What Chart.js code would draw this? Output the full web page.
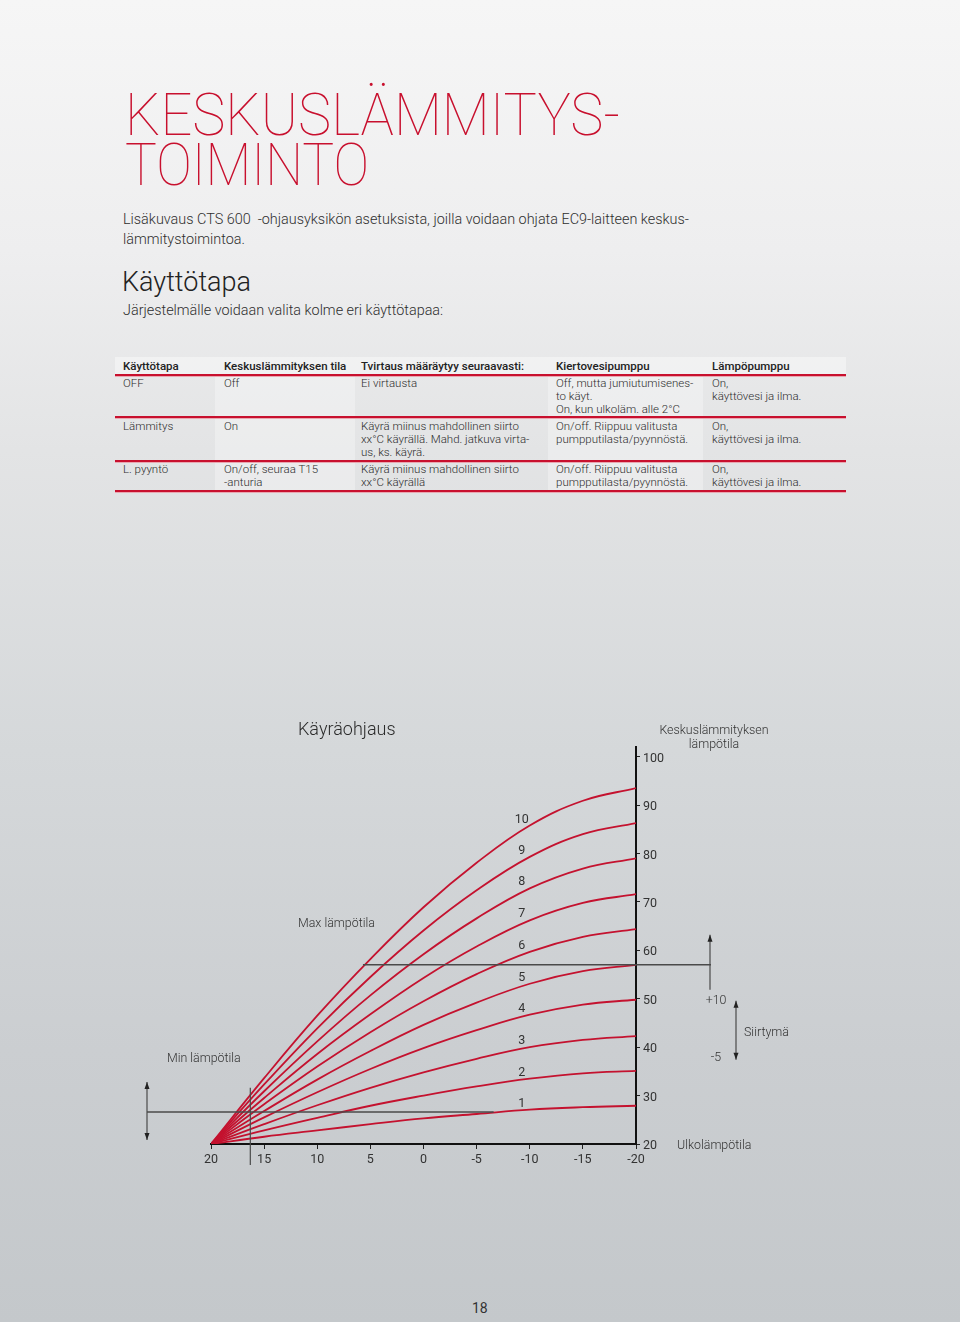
<!DOCTYPE html>
<html lang="fi">
<head>
<meta charset="utf-8">
<title>Keskuslämmitystoiminto</title>
<script src="https://cdn.jsdelivr.net/npm/chart.js@4.4.1/dist/chart.umd.min.js"></script>
<style>
  html, body { margin: 0; padding: 0; }
  body {
    width: 960px; height: 1322px; position: relative; overflow: hidden;
    font-family: Roboto, "DejaVu Sans", sans-serif; color: #2b2b2b;
    background: linear-gradient(to bottom, #f6f6f6 0px, #eeeeef 250px, #e3e4e5 450px, #d5d8da 750px, #cbced1 1050px, #c4c8cb 1322px);
  }
  .abs { position: absolute; white-space: nowrap; }
  .title { left: 125px; font-weight: 100; font-size: 60px; line-height: 60px; color: #c8102e; transform-origin: 0 0; }
  .body { left: 123px; font-size: 14.4px; line-height: 20px; font-weight: 300; color: #2e2e2e; }
  .h2 { left: 122px; top: 267px; font-size: 27px; line-height: 30px; font-weight: 300; color: #222; }
  .cell { font-size: 11.5px; line-height: 13px; font-weight: 300; color: #2e2e2e; }
  .hd { font-weight: 500; color: #222; }
  .shade { position: absolute; background: rgba(255,255,255,0.3); }
  .rule { position: absolute; left: 115px; width: 731px; height: 2px; background: #c8102e; border-bottom: 1px solid #e9a7b1; }
  #wrap { position: absolute; left: 0; top: 690px; width: 960px; height: 510px; }
</style>
</head>
<body>

<div class="abs title" style="top:85px" data-fit="495">KESKUSLÄMMITYS-</div>
<div class="abs title" style="top:135px" data-fit="244">TOIMINTO</div>

<div class="abs body" style="top:210px">Lisäkuvaus CTS 600 &nbsp;-ohjausyksikön asetuksista, joilla voidaan ohjata EC9-laitteen keskus-<br>lämmitystoimintoa.</div>
<div class="abs h2">Käyttötapa</div>
<div class="abs body" style="top:301px">Järjestelmälle voidaan valita kolme eri käyttötapaa:</div>

<!-- table -->
<div class="shade" style="left:115px; top:357px; width:731px; height:17px; background:rgba(255,255,255,0.4)"></div>
<div class="shade" style="left:215px; top:377px; width:140px; height:114px"></div>
<div class="shade" style="left:548px; top:377px; width:155px; height:114px"></div>
<div class="rule" style="top:374px"></div>
<div class="rule" style="top:416px"></div>
<div class="rule" style="top:460px"></div>
<div class="rule" style="top:490px"></div>

<div class="abs cell hd" style="left:123px; top:360px">Käyttötapa</div>
<div class="abs cell hd" style="left:224px; top:360px">Keskuslämmityksen tila</div>
<div class="abs cell hd" style="left:361px; top:360px">Tvirtaus määräytyy seuraavasti:</div>
<div class="abs cell hd" style="left:556px; top:360px">Kiertovesipumppu</div>
<div class="abs cell hd" style="left:712px; top:360px">Lämpöpumppu</div>

<div class="abs cell" style="left:123px; top:377px">OFF</div>
<div class="abs cell" style="left:224px; top:377px">Off</div>
<div class="abs cell" style="left:361px; top:377px">Ei virtausta</div>
<div class="abs cell" style="left:556px; top:377px">Off, mutta jumiutumisenes-<br>to käyt.<br>On, kun ulkoläm. alle 2°C</div>
<div class="abs cell" style="left:712px; top:377px">On,<br>käyttövesi ja ilma.</div>

<div class="abs cell" style="left:123px; top:420px">Lämmitys</div>
<div class="abs cell" style="left:224px; top:420px">On</div>
<div class="abs cell" style="left:361px; top:420px">Käyrä miinus mahdollinen siirto<br>xx°C käyrällä. Mahd. jatkuva virta-<br>us, ks. käyrä.</div>
<div class="abs cell" style="left:556px; top:420px">On/off. Riippuu valitusta<br>pumpputilasta/pyynnöstä.</div>
<div class="abs cell" style="left:712px; top:420px">On,<br>käyttövesi ja ilma.</div>

<div class="abs cell" style="left:123px; top:463px">L. pyyntö</div>
<div class="abs cell" style="left:224px; top:463px">On/off, seuraa T15<br>-anturia</div>
<div class="abs cell" style="left:361px; top:463px">Käyrä miinus mahdollinen siirto<br>xx°C käyrällä</div>
<div class="abs cell" style="left:556px; top:463px">On/off. Riippuu valitusta<br>pumpputilasta/pyynnöstä.</div>
<div class="abs cell" style="left:712px; top:463px">On,<br>käyttövesi ja ilma.</div>

<div id="wrap"><canvas id="curves" width="960" height="510"></canvas></div>

<div class="abs" style="left:472px; top:1299px; font-size:14px; line-height:18px; color:#333">18</div>

<script>
// outdoor temperature (x) and supply temperature of each heating curve (y)
const OUTDOOR = [20, 15, 10, 5, 0, -5, -10, -15, -20];
const curve1  = [20, 21.5, 22.8, 24.1, 25.3, 26.2, 27.1, 27.6, 27.9];
const curve2  = [20, 22.8, 25.4, 27.9, 30.0, 31.9, 33.5, 34.6, 35.1];
const curve3  = [20, 24.1, 28.0, 31.6, 34.8, 37.6, 40.0, 41.5, 42.3];
const curve4  = [20, 25.5, 30.7, 35.5, 39.8, 43.5, 46.7, 48.8, 49.8];
const curve5  = [20, 26.8, 33.3, 39.2, 44.6, 49.2, 53.1, 55.7, 57.0];
const curve6  = [20, 28.2, 36.0, 43.1, 49.5, 55.1, 59.7, 62.8, 64.4];
const curve7  = [20, 29.5, 38.6, 46.8, 54.3, 60.8, 66.2, 69.8, 71.6];
const curve8  = [20, 30.9, 41.2, 50.7, 59.2, 66.6, 72.8, 76.9, 79.0];
const curve9  = [20, 32.3, 43.9, 54.5, 64.1, 72.4, 79.3, 84.0, 86.3];
const curve10 = [20, 33.6, 46.5, 58.2, 68.9, 78.1, 85.8, 90.9, 93.5];
const CURVES = [curve1, curve2, curve3, curve4, curve5, curve6, curve7, curve8, curve9, curve10];
const CURVE_NAMES = ['1', '2', '3', '4', '5', '6', '7', '8', '9', '10'];

const MAX_TEMP = 57;      // Max lämpötila
const MIN_TEMP = 26.6;    // Min lämpötila
const MAX_FROM = 5.7;     // where the max line starts (outdoor temp)
const MIN_TO = -6.6;      // where the min line ends
const MARK_X = 16.3;      // vertical marker on the x axis

// stretch the title lines to the width of the original
document.querySelectorAll('[data-fit]').forEach(function(el) {
  const w = el.getBoundingClientRect().width;
  el.style.transform = 'scaleX(' + (Number(el.dataset.fit) / w) + ')';
});

function head(ctx, x, y, dir) {
  ctx.beginPath();
  ctx.moveTo(x, y);
  ctx.lineTo(x - 2.5, y - dir * 7);
  ctx.lineTo(x + 2.5, y - dir * 7);
  ctx.closePath();
  ctx.fill();
}

function arrow(ctx, x, from, to, both) {
  ctx.beginPath();
  ctx.moveTo(x, from);
  ctx.lineTo(x, to);
  ctx.stroke();
  head(ctx, x, to, to < from ? -1 : 1);
  if (both) head(ctx, x, from, from < to ? -1 : 1);
}

const overlay = {
  id: 'overlay',
  afterDatasetsDraw(chart) {
    const ctx = chart.ctx, a = chart.chartArea;
    const x = chart.scales.x, y = chart.scales.y;
    ctx.save();

    // curve numbers, just above each curve near -10
    ctx.fillStyle = '#333';
    ctx.font = '12.5px Roboto';
    ctx.textAlign = 'center';
    ctx.textBaseline = 'middle';
    chart.data.datasets.forEach(function(ds, i) {
      const p = chart.getDatasetMeta(i).data[6];
      ctx.fillText(CURVE_NAMES[i], p.x - 8, p.y - 6);
    });

    ctx.strokeStyle = '#4a4a4a';
    ctx.fillStyle = '#222';
    ctx.lineWidth = 1.5;

    // max line + shift arrows
    const yMax = y.getPixelForValue(MAX_TEMP);
    ctx.beginPath();
    ctx.moveTo(x.getPixelForValue(MAX_FROM), yMax);
    ctx.lineTo(a.right + 75, yMax);
    ctx.stroke();
    ctx.lineWidth = 1.2;
    arrow(ctx, a.right + 74, yMax + 25, yMax - 30, false);
    arrow(ctx, a.right + 100, yMax + 36, yMax + 95, true);

    // min line + arrow
    const yMin = y.getPixelForValue(MIN_TEMP);
    ctx.lineWidth = 1.5;
    ctx.beginPath();
    ctx.moveTo(a.left - 64, yMin);
    ctx.lineTo(x.getPixelForValue(MIN_TO), yMin);
    ctx.stroke();
    ctx.lineWidth = 1.2;
    arrow(ctx, a.left - 64, yMin - 30, yMin + 28, true);

    // vertical marker
    ctx.beginPath();
    ctx.moveTo(x.getPixelForValue(MARK_X), y.getPixelForValue(31.6));
    ctx.lineTo(x.getPixelForValue(MARK_X), a.bottom + 21);
    ctx.stroke();

    // texts
    ctx.fillStyle = '#333';
    ctx.textAlign = 'left';
    ctx.font = '300 12.4px Roboto';
    ctx.fillText('Max lämpötila', 298, yMax - 41);
    ctx.fillText('Min lämpötila', 167, yMin - 53);
    ctx.fillText('Ulkolämpötila', a.right + 41, a.bottom + 2);
    ctx.fillText('Siirtymä', a.right + 108, yMax + 68);
    ctx.textAlign = 'center';
    ctx.fillText('+10', a.right + 80, yMax + 36);
    ctx.fillText('-5', a.right + 80, yMax + 93);
    ctx.fillText('Keskuslämmityksen', 714, 41);
    ctx.fillText('lämpötila', 714, 55);
    ctx.textAlign = 'left';
    ctx.fillStyle = '#2b2b2b';
    ctx.font = '300 18px Roboto';
    ctx.fillText('Käyräohjaus', 298, 40);

    ctx.restore();
  }
};

const tickFont = { family: 'Roboto', size: 12.5 };

new Chart(document.getElementById('curves'), {
  type: 'line',
  data: {
    datasets: CURVES.map(function(c, i) {
      return {
        label: CURVE_NAMES[i],
        data: OUTDOOR.map(function(t, j) { return { x: t, y: c[j] }; }),
        borderColor: '#c4122f',
        borderWidth: 1.8,
        pointRadius: 0,
        tension: 0.4,
        fill: false
      };
    })
  },
  options: {
    responsive: false,
    animation: false,
    devicePixelRatio: 1,
    layout: { padding: { left: 211, right: 264, top: 57, bottom: 26 } },
    plugins: { legend: { display: false }, tooltip: { enabled: false } },
    scales: {
      x: {
        type: 'linear', reverse: true, min: -20, max: 20,
        ticks: { stepSize: 5, color: '#333', font: tickFont, padding: 3, maxRotation: 0 },
        grid: { drawOnChartArea: false, tickLength: 5, color: '#222' },
        border: { color: '#111', width: 2 },
        afterFit: function(s) { s.height = 30; }
      },
      y: {
        type: 'linear', position: 'right', min: 20, max: 102,
        ticks: { stepSize: 10, includeBounds: false, color: '#333', font: tickFont, padding: 3, labelOffset: 2 },
        grid: { drawOnChartArea: false, tickLength: 4, color: '#222' },
        border: { color: '#111', width: 2 },
        afterFit: function(s) { s.width = 60; }
      }
    }
  },
  plugins: [overlay]
});
</script>
</body>
</html>
